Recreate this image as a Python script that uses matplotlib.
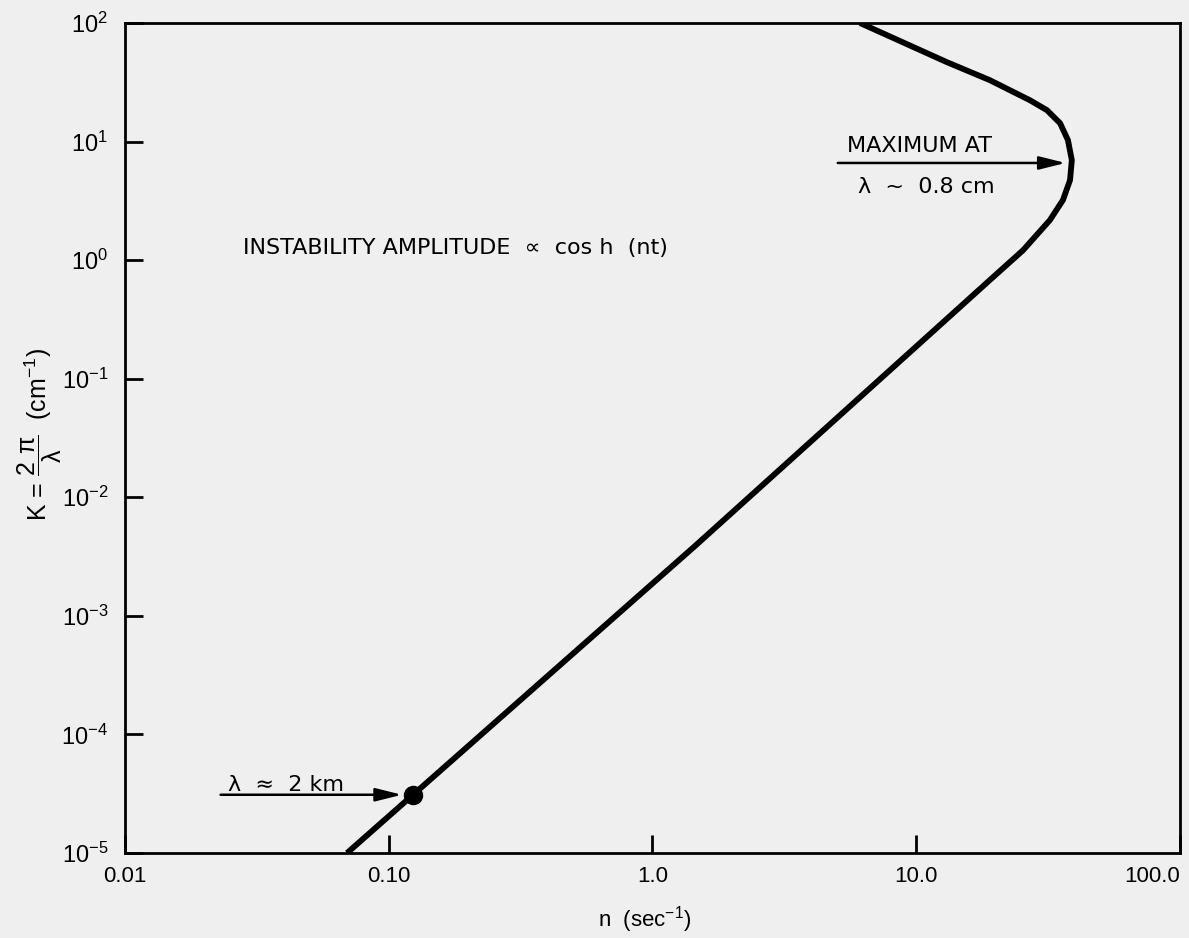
import matplotlib
matplotlib.use("Agg")
import matplotlib.pyplot as plt

plt.rcParams["font.family"] = ["Liberation Sans", "DejaVu Sans"]
plt.rcParams["mathtext.default"] = "regular"
plt.rcParams.update({"font.size": 16})

# growth rate n (sec^-1) and wavenumber K (cm^-1) from bottom to top
n_vals = [0.0695, 1.449, 14.65, 19.0, 25.4, 32.1, 36.0, 38.3, 38.9,
          37.6, 35.1, 31.3, 27.0, 19.04, 13.08, 6.12]
k_vals = [1e-5, 3.88e-3, 0.402, 0.678, 1.21, 2.17, 3.21, 4.73, 6.97,
          10.3, 14.3, 18.4, 22.3, 32.9, 46.7, 100.0]

# marked points
km_point = (0.1236, 3.1e-5)    # lambda ~ 2 km
max_point = (38.9, 6.6)        # maximum at lambda ~ 0.8 cm

x_ticks = [0.01, 0.1, 1.0, 10.0, 100.0]
x_labels = ["0.01", "0.10", "1.0", "10.0", "100.0"]
y_ticks = [1e-5, 1e-4, 1e-3, 1e-2, 1e-1, 1e0, 1e1, 1e2]
y_labels = ["$10^{-5}$", "$10^{-4}$", "$10^{-3}$", "$10^{-2}$",
            "$10^{-1}$", "$10^{0}$", "$10^{1}$", "$10^{2}$"]

bg = "#efefef"
note_font = ["DejaVu Sans"]

fig = plt.figure(figsize=(11.89, 9.38), dpi=100, facecolor=bg)
ax = fig.add_axes([0.1051, 0.0906, 0.8873, 0.8849], facecolor=bg)

ax.plot(n_vals, k_vals, color="black", linewidth=4.2, solid_capstyle="butt",
        solid_joinstyle="round")
ax.plot(*km_point, "o", color="black", markersize=13)

ax.set_xscale("log")
ax.set_yscale("log")
ax.set_xlim(0.01, 100)
ax.set_ylim(1e-5, 1e2)

ax.set_xticks(x_ticks)
ax.set_xticklabels(x_labels)
ax.set_yticks(y_ticks)
ax.set_yticklabels(y_labels)
ax.minorticks_off()
ax.tick_params(direction="in", length=13, width=2, labelsize=16)
ax.tick_params(axis="x", pad=9)
ax.tick_params(axis="y", pad=12, labelsize=17)
ax.get_xticklabels()[-1].set_horizontalalignment("right")

for s in ax.spines.values():
    s.set_linewidth(2)

# annotations
arrow = dict(arrowstyle="-|>,head_length=1.0,head_width=0.25", color="black", lw=1.8)
ax.annotate("", xy=(max_point[0] * 0.97, max_point[1]), xytext=(4.92, max_point[1]),
            arrowprops=arrow)
ax.text(5.46, 9.15, "MAXIMUM AT", fontsize=16, family=note_font,
        va="center", ha="left")
ax.text(6.0, 4.13, "λ  ~  0.8 cm", fontsize=16, family=note_font,
        va="center", ha="left")

ax.annotate("", xy=(km_point[0] * 0.93, km_point[1]), xytext=(0.0225, km_point[1]),
            arrowprops=arrow)
ax.text(0.0246, 3.74e-5, "λ  ≈  2 km", fontsize=16, family=note_font,
        va="center", ha="left")

ax.text(0.028, 1.26, "INSTABILITY AMPLITUDE  ∝  cos h  (nt)", fontsize=16,
        family=note_font, va="center", ha="left")

# axis titles
fig.text(645 / 1189, 1 - 920 / 938, "n  (sec$^{-1}$)", fontsize=16,
         ha="center", va="center")
fig.text(40 / 1189, 1 - 435 / 938, r"K = $\dfrac{2\ \pi}{\lambda}$  (cm$^{-1}$)",
         rotation=90, fontsize=18, ha="center", va="center")

plt.savefig("out.png", dpi=100, facecolor=bg)
